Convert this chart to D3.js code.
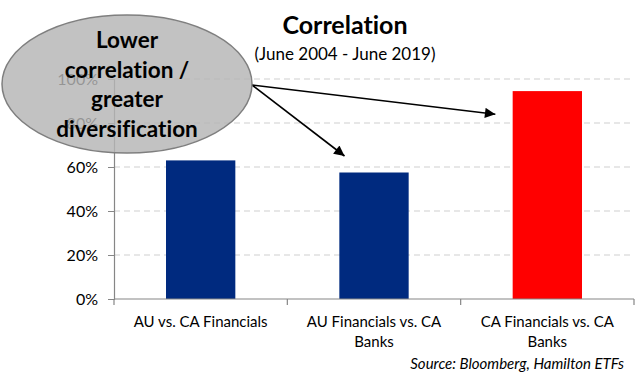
<!DOCTYPE html>
<html>
<head>
<meta charset="utf-8">
<script src="https://cdn.jsdelivr.net/npm/d3@7"></script>
<style>
  body { margin: 0; background: #fff; }
  svg { display: block; font-family: Lato, "Open Sans", sans-serif; }
  svg text { font-variant-ligatures: none; font-feature-settings: "liga" 0, "clig" 0, "dlig" 0; }
</style>
</head>
<body>
<div id="chart"></div>
<script>
// Data
const categories = [
    ["AU vs. CA Financials"],
    ["AU Financials vs. CA", "Banks"],
    ["CA Financials vs. CA", "Banks"]
];
const values = [0.63, 0.575, 0.945];
const barColors = ["#002a7f", "#002a7f", "#ff0000"];
const yTicks = [0, 0.2, 0.4, 0.6, 0.8, 1.0];
const calloutLines = ["Lower", "correlation /", "greater", "diversification"];
// arrow targets: [category index, offset within band (fraction), value]
const arrowTargets = [[1, 0.03, 0.65], [2, -0.1, 0.84]];

const width = 637, height = 375;
const margin = {top: 79, right: 3, bottom: 76, left: 114};

const svg = d3.select("#chart")
    .append("svg")
    .attr("width", width)
    .attr("height", height);

const x = d3.scaleBand()
    .domain(d3.range(categories.length))
    .range([margin.left, width - margin.right])
    .paddingInner(0.6)
    .paddingOuter(0.3);

const y = d3.scaleLinear()
    .domain([0, 1])
    .range([height - margin.bottom, margin.top]);

// Gridlines
svg.append("g")
    .selectAll("line")
    .data(yTicks.filter(d => d > 0))
    .join("line")
    .attr("x1", margin.left)
    .attr("x2", width - margin.right)
    .attr("y1", d => y(d))
    .attr("y2", d => y(d))
    .attr("stroke", "#d0d0d0")
    .attr("stroke-width", 1.2)
    .attr("stroke-dasharray", "6,4");

// Bars
svg.append("g")
    .selectAll("rect")
    .data(values)
    .join("rect")
    .attr("x", (d, i) => x(i))
    .attr("y", d => y(d))
    .attr("width", x.bandwidth())
    .attr("height", d => y(0) - y(d))
    .attr("fill", (d, i) => barColors[i]);

// Y axis
const yAxis = svg.append("g")
    .attr("transform", `translate(${margin.left},0)`)
    .call(d3.axisLeft(y).tickValues(yTicks).tickFormat(d3.format(".0%")).tickSize(6).tickPadding(10));
yAxis.select(".domain").attr("stroke", "#868686").attr("stroke-width", 1.2);
yAxis.selectAll(".tick line").attr("stroke", "#868686");
yAxis.selectAll(".tick text")
    .attr("fill", "#000")
    .style("font-size", "16px")
    .style("font-family", "Lato, sans-serif");

// X axis with ticks at band boundaries
const boundaries = d3.range(categories.length + 1).map(i => margin.left + i * (width - margin.right - margin.left) / categories.length);
const xAxis = svg.append("g");
xAxis.append("line")
    .attr("x1", margin.left)
    .attr("x2", width - margin.right)
    .attr("y1", y(0))
    .attr("y2", y(0))
    .attr("stroke", "#868686")
    .attr("stroke-width", 1.2);
xAxis.selectAll(".xtick")
    .data(boundaries)
    .join("line")
    .attr("class", "xtick")
    .attr("x1", d => d)
    .attr("x2", d => d)
    .attr("y1", y(0))
    .attr("y2", y(0) + 6)
    .attr("stroke", "#868686")
    .attr("stroke-width", 1.2);

// Category labels
xAxis.selectAll(".xlabel")
    .data(categories)
    .join("text")
    .attr("class", "xlabel")
    .attr("text-anchor", "middle")
    .attr("font-size", "15px")
    .attr("fill", "#000")
    .each(function(lines, i) {
        d3.select(this).selectAll("tspan")
            .data(lines)
            .join("tspan")
            .attr("x", x(i) + x.bandwidth() / 2)
            .attr("y", (d, j) => y(0) + 28 + j * 20)
            .text(d => d);
    });

// Title
svg.append("text")
    .attr("x", 345)
    .attr("y", 34)
    .attr("text-anchor", "middle")
    .attr("font-size", "25px")
    .attr("font-weight", "bold")
    .text("Correlation");

svg.append("text")
    .attr("x", 345)
    .attr("y", 60)
    .attr("text-anchor", "middle")
    .attr("font-size", "17px")
    .text("(June 2004 - June 2019)");

// Source
svg.append("text")
    .attr("x", 624)
    .attr("y", 369)
    .attr("text-anchor", "end")
    .attr("font-size", "15px")
    .attr("font-style", "italic")
    .text("Source: Bloomberg, Hamilton ETFs");

// Arrows
const defs = svg.append("defs");
defs.append("marker")
    .attr("id", "arrowhead")
    .attr("viewBox", "0 0 10 10")
    .attr("refX", 10)
    .attr("refY", 5)
    .attr("markerWidth", 8)
    .attr("markerHeight", 6.5)
    .attr("markerUnits", "strokeWidth")
    .attr("orient", "auto")
    .append("path")
    .attr("d", "M0,0 L10,5 L0,10 Z")
    .attr("fill", "#000");

const start = [252, 85];
svg.append("g")
    .selectAll("line")
    .data(arrowTargets)
    .join("line")
    .attr("x1", start[0])
    .attr("y1", start[1])
    .attr("x2", d => x(d[0]) + d[1] * x.bandwidth() * 2.5)
    .attr("y2", d => y(d[2]))
    .attr("stroke", "#000")
    .attr("stroke-width", 1.6)
    .attr("marker-end", "url(#arrowhead)");

// Callout ellipse
svg.append("ellipse")
    .attr("cx", 127)
    .attr("cy", 84)
    .attr("rx", 125)
    .attr("ry", 69)
    .attr("fill", "#b5b5b5")
    .attr("fill-opacity", 0.82)
    .attr("stroke", "#7f7f7f")
    .attr("stroke-width", 1.5);

svg.append("g")
    .selectAll("text")
    .data(calloutLines)
    .join("text")
    .attr("x", 127)
    .attr("y", (d, i) => 48 + i * 29.7)
    .attr("text-anchor", "middle")
    .attr("font-size", "22.5px")
    .attr("font-weight", "bold")
    .attr("fill", "#000")
    .text(d => d);
</script>
</body>
</html>
